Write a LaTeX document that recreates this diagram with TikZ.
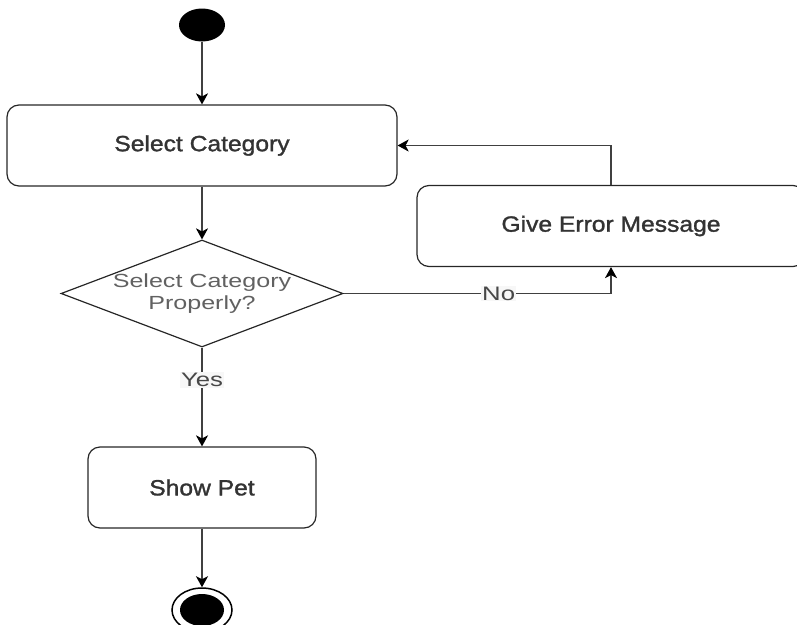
\documentclass[tikz,border=0pt]{standalone}
\usepackage{fontspec}
\usetikzlibrary{shapes.geometric,arrows.meta,positioning}
\newfontfamily\boxfont[FakeStretch=1.12,FakeBold=1.4]{Liberation Sans}
\newfontfamily\askfont[FakeStretch=1.32]{Liberation Sans}

\begin{document}
\begin{tikzpicture}[x=1pt, y=-1pt]
    % Styles
    \tikzstyle{action} = [rectangle, draw=black!85, line width=1.2pt, rounded corners=12pt, minimum height=81pt, inner sep=0pt, text=black!80, font=\boxfont\fontsize{22}{26}\selectfont]
    \tikzstyle{decision} = [diamond, draw=black!85, line width=1.2pt, minimum width=282pt, minimum height=107pt, inner sep=0pt]
    \tikzstyle{asktext} = [align=center, text=black!62, font=\askfont\fontsize{19}{22}\selectfont]
    \tikzstyle{guard} = [fill=black!3, inner sep=1pt, text=black!72, font=\askfont\fontsize{19.5}{22}\selectfont]
    \tikzstyle{startdot} = [ellipse, fill=black, minimum width=46pt, minimum height=33pt, inner sep=0pt]
    \tikzstyle{stopdot} = [ellipse, draw=black, line width=1.5pt, fill=white, minimum width=60pt, minimum height=44pt, inner sep=0pt,
        path picture={\fill[black] (path picture bounding box.center) ellipse (22pt and 16pt);}]
    \tikzstyle{arrow} = [draw=black!75, line width=1.5pt, -{Stealth[length=11pt,width=12pt,inset=3pt,color=black,fill=black]}]

    \useasboundingbox (0,0) rectangle (797,624);

    % Nodes
    \node[startdot] (start) at (202,25) {};
    \node[action, minimum width=390pt] (select) at (202,145.5) {Select Category};
    \node[decision] (check) at (202,293.5) {};
    \node[asktext] (checktext) at (check) {Select Category\\Properly?};
    \node[action, minimum width=388pt] (error) at (611,226) {Give Error Message};
    \node[action, minimum width=228pt] (show) at (202,487.5) {Show Pet};
    \node[stopdot] (stop) at (202,610) {};

    % Arrows
    \draw[arrow] (start) -- (select);
    \draw[arrow] (select) -- (check);
    \draw[arrow] (check.east) -| node[guard, pos=0.29] {No} (error.south);
    \draw[arrow] (error.north) |- (select.east);
    \draw[arrow] (check) -- node[guard, pos=0.33] {Yes} (show);
    \draw[arrow] (show) -- (stop);
\end{tikzpicture}
\end{document}
